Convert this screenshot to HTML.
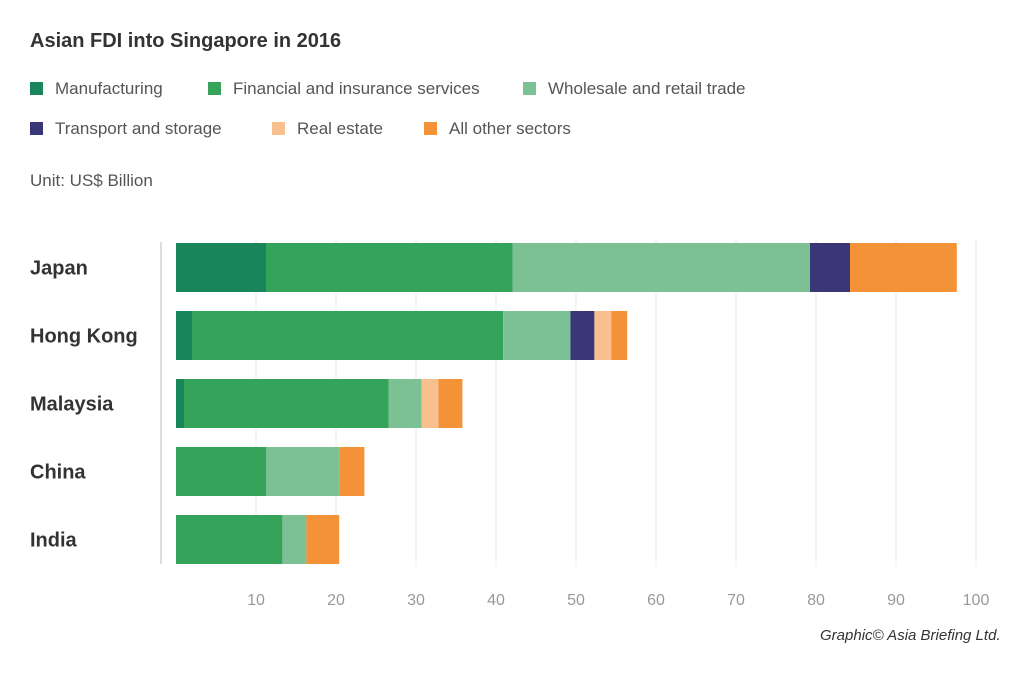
<!DOCTYPE html>
<html><head><meta charset="utf-8"><style>
body{margin:0;background:#fff;font-family:"Liberation Sans",sans-serif;}
#wrap{position:relative;width:1024px;height:674px;overflow:hidden;}
.t{position:absolute;white-space:nowrap;}
.leg{position:absolute;font-size:17px;color:#555;}
.sw{display:inline-block;width:13px;height:13px;vertical-align:-1px;margin-right:12px;}
</style></head><body>
<div id="wrap">
<div class="t" style="left:30px;top:30px;font-size:20px;font-weight:bold;color:#333;">Asian FDI into Singapore in 2016</div>
<div class="leg" style="left:30px;top:79px"><span class="sw" style="background:#18855a"></span>Manufacturing</div>
<div class="leg" style="left:208px;top:79px"><span class="sw" style="background:#35a35a"></span>Financial and insurance services</div>
<div class="leg" style="left:523px;top:79px"><span class="sw" style="background:#7cc193"></span>Wholesale and retail trade</div>
<div class="leg" style="left:30px;top:119px"><span class="sw" style="background:#3a3778"></span>Transport and storage</div>
<div class="leg" style="left:272px;top:119px"><span class="sw" style="background:#f9c08f"></span>Real estate</div>
<div class="leg" style="left:424px;top:119px"><span class="sw" style="background:#f39237"></span>All other sectors</div>
<div class="t" style="left:30px;top:171px;font-size:17px;color:#555;">Unit: US$ Billion</div>
<svg id="svg" width="1024" height="674" style="position:absolute;left:0;top:0"></svg>
<div class="t" style="left:820px;top:627px;font-size:15px;font-style:italic;color:#333;">Graphic© Asia Briefing Ltd.</div>
</div>
<script>
const categories=["Japan","Hong Kong","Malaysia","China","India"];
const manufacturing=[11.25,2,1,0,0];
const financial=[30.85,38.9,25.6,11.25,13.3];
const wholesale=[37.15,8.4,4.1,9.2,3];
const transport=[5,3,0,0,0];
const realEstate=[0,2.1,2.1,0,0];
const other=[13.35,2,3,3.1,4.1];
const ticks=[10,20,30,40,50,60,70,80,90,100];
const series=[manufacturing,financial,wholesale,transport,realEstate,other];
const colors=["#18855a","#35a35a","#7cc193","#3a3778","#f9c08f","#f39237"];
const svg=document.getElementById('svg');const NS="http://www.w3.org/2000/svg";
const x=v=>176+v*8;const y=i=>243+i*68;const bh=49;
function mk(t,a){const e=document.createElementNS(NS,t);for(const k in a)e.setAttribute(k,a[k]);svg.appendChild(e);return e;}
ticks.forEach(t=>{const g=mk('line',{x1:x(t),x2:x(t),y1:240,y2:566,stroke:'#ebebeb','stroke-width':1});

const l=mk('text',{x:x(t),y:605,'text-anchor':'middle','font-size':16,fill:'#999'});l.textContent=t;
});
const ax=mk('line',{x1:161,x2:161,y1:242,y2:564,stroke:'#ddd','stroke-width':2});

categories.forEach((c,i)=>{let acc=0;
const l=mk('text',{x:30,y:y(i)+bh/2+7,'font-size':20,'font-weight':'bold',fill:'#333'});l.textContent=c;

series.forEach((s,j)=>{if(s[i]>0){const r=mk('rect',{x:x(acc),y:y(i),width:s[i]*8,height:bh,fill:colors[j]});
}acc+=s[i];});});
</script>
</body></html>
